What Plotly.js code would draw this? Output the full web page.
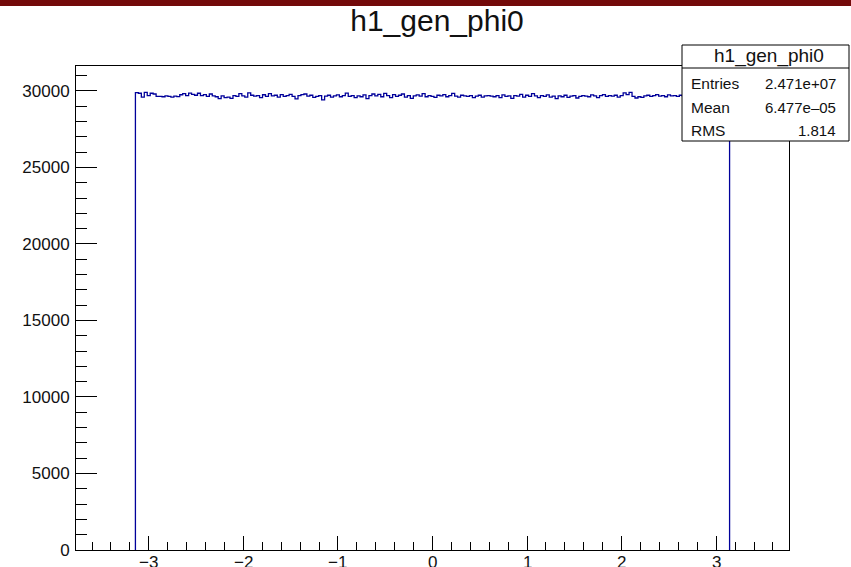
<!DOCTYPE html>
<html><head><meta charset="utf-8">
<script src="https://cdn.plot.ly/plotly-3.0.1.min.js"></script>
<style>
html,body{margin:0;padding:0;background:#fff;overflow:hidden}
#topbar{position:absolute;left:0;top:0;width:851px;height:6px;background:#730a0a;z-index:5}
#chart{width:851px;height:567px}
</style>
</head><body>
<div id="topbar"></div>
<div id="chart"></div>
<script>
// ---- data ----
const histName = 'h1_gen_phi0';
const filledMin = -Math.PI;   // first filled bin edge
const filledMax = Math.PI;    // last filled bin edge
const axisMin = -1.2 * Math.PI;
const axisMax = 1.2 * Math.PI;
const binContents = [
  29890, 29850, 29600, 29900, 29700, 29850, 29800, 29650, 29650, 29620,
  29680, 29640, 29600, 29660, 29630, 29750, 29820, 29700, 29860, 29780,
  29720, 29850, 29700, 29760, 29640, 29800, 29680, 29620, 29500, 29680,
  29560, 29600, 29520, 29700, 29640, 29820, 29680, 29600, 29880, 29720,
  29660,
  29700, 29560, 29750, 29640, 29820, 29680, 29720, 29600, 29760, 29650,
  29700, 29780, 29640, 29480, 29700, 29760, 29800, 29660, 29720, 29580,
  29640, 29700, 29420, 29660, 29720, 29600, 29680, 29740, 29620, 29700,
  29860, 29640, 29700, 29560, 29680, 29620, 29740, 29500, 29700, 29800,
  29680, 29780, 29620, 29840, 29700, 29560, 29760, 29640, 29720, 29800,
  29600, 29700, 29520, 29680, 29740, 29660, 29820, 29620, 29700, 29640,
  29580, 29720, 29680, 29760, 29620, 29700, 29840, 29660, 29600, 29720,
  29680, 29640, 29700, 29560, 29660, 29720, 29600, 29680, 29700, 29660,
  29620, 29700, 29560, 29740, 29640, 29680, 29520, 29700, 29660, 29780,
  29600, 29720, 29640, 29820, 29680, 29560, 29700, 29640, 29740, 29600,
  29660, 29500, 29680, 29620, 29720, 29580, 29660, 29700, 29540, 29640,
  29700, 29660, 29620, 29740, 29680, 29560, 29700, 29760, 29640, 29700,
  29660, 29720, 29600, 29700, 29880, 29760, 29900, 29640, 29540, 29620,
  29580, 29680, 29720, 29640, 29700, 29760, 29660, 29700, 29620, 29740,
  29680, 29700, 29640, 29720, 29660, 29700, 29620, 29680, 29740, 29660,
  29700, 29640, 29720, 29680, 29600, 29700, 29660, 29740, 29680, 29700
];
const xTickVals = [-3, -2, -1, 0, 1, 2, 3];
const xTickText = ['\u22123', '\u22122', '\u22121', '0', '1', '2', '3'];
const statLabels = ['Entries', 'Mean', 'RMS'];
const statValues = ['2.471e+07', '6.477e\u201305', '1.814'];
const yMax = 31630;

// ---- build step outline through the axes ----
const nBins = binContents.length;
const binW = (filledMax - filledMin) / nBins;
const xs = [filledMin], ys = [0];
for (let i = 0; i < nBins; i++) { xs.push(filledMin + i * binW); ys.push(binContents[i]); }
xs.push(filledMax); ys.push(binContents[nBins - 1]);
xs.push(filledMax); ys.push(0);

const W = 851, H = 567;
const M = {l: 76, r: 62, t: 66, b: 17};
const pw = W - M.l - M.r, ph = H - M.t - M.b;
const px2x = p => (p - M.l) / pw;
const py2y = p => (H - M.b - p) / ph;

const FONT = 'Liberation Sans, Arial, Helvetica, sans-serif';

const trace = {
  x: xs, y: ys, type: 'scatter', mode: 'lines',
  line: {shape: 'hv', color: '#00009a', width: 1.3},
  hoverinfo: 'skip', showlegend: false
};

const axisCommon = {
  showline: true, linecolor: 'black', linewidth: 1, mirror: true,
  ticks: 'inside', tickcolor: 'black', tickwidth: 1,
  showgrid: false, zeroline: false, fixedrange: true,
  tickfont: {family: FONT, size: 17, color: '#111'}
};

const shapes = [
  {type: 'rect', xref: 'paper', yref: 'paper', layer: 'above',
   x0: px2x(682), x1: px2x(849), y0: py2y(141), y1: py2y(45),
   fillcolor: 'white', line: {color: 'black', width: 1}},
  {type: 'line', xref: 'paper', yref: 'paper', layer: 'above',
   x0: px2x(682), x1: px2x(849), y0: py2y(68), y1: py2y(68),
   line: {color: 'black', width: 1}}
];
const annotations = [
  {xref: 'paper', yref: 'paper', x: px2x(769), y: py2y(56), xanchor: 'center', yanchor: 'middle',
   text: histName, showarrow: false, font: {family: FONT, size: 19, color: '#111'}}
];
const rowY = [83, 107, 130];
statLabels.forEach((lab, i) => {
  annotations.push({xref: 'paper', yref: 'paper', x: px2x(689), y: py2y(rowY[i]), xanchor: 'left', yanchor: 'middle',
    text: lab, showarrow: false, font: {family: FONT, size: 15.5, color: '#111'}});
  annotations.push({xref: 'paper', yref: 'paper', x: px2x(838), y: py2y(rowY[i]), xanchor: 'right', yanchor: 'middle',
    text: statValues[i], showarrow: false, font: {family: FONT, size: 15, color: '#111'}});
});
// x tick labels placed at the axis' own tick values (sit close under the axis like ROOT)
xTickVals.forEach((v, i) => {
  annotations.push({xref: 'x', yref: 'paper', x: v, y: py2y(552), xanchor: 'center', yanchor: 'top',
    text: xTickText[i], showarrow: false, font: {family: FONT, size: 17, color: '#111'},
    borderpad: 0, captureevents: false});
});

const layout = {
  width: W, height: H,
  margin: M,
  paper_bgcolor: 'white', plot_bgcolor: 'white',
  title: {text: histName, xref: 'container', yref: 'container', x: 437 / W, y: 1 - 20 / H,
          xanchor: 'center', yanchor: 'middle', font: {family: FONT, size: 30, color: '#111'}},
  xaxis: Object.assign({}, axisCommon, {
    range: [axisMin, axisMax], tickmode: 'array', tickvals: xTickVals, ticklen: 14,
    showticklabels: false,
    minor: {ticks: 'inside', ticklen: 8, dtick: 0.2, tick0: 0, tickcolor: 'black', tickwidth: 1, showgrid: false}
  }),
  yaxis: Object.assign({}, axisCommon, {
    range: [0, yMax], tickmode: 'linear', tick0: 0, dtick: 5000, ticklen: 21,
    tickformat: 'd', ticklabelstandoff: 2,
    minor: {ticks: 'inside', ticklen: 11, dtick: 1000, tick0: 0, tickcolor: 'black', tickwidth: 1, showgrid: false}
  }),
  shapes: shapes,
  annotations: annotations,
  showlegend: false
};

Plotly.newPlot('chart', [trace], layout, {displayModeBar: false, staticPlot: true});
</script>
</body></html>
